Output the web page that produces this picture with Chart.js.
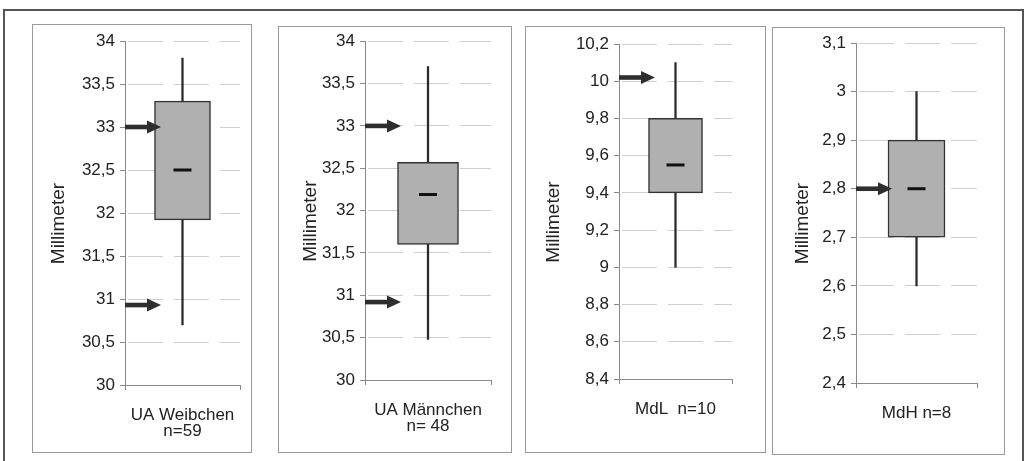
<!DOCTYPE html>
<html>
<head>
<meta charset="utf-8">
<script src="https://cdn.jsdelivr.net/npm/chart.js@4.4.1/dist/chart.umd.min.js"></script>
<style>
  body { margin: 0; background: #fff; width: 1028px; height: 461px; overflow: hidden; position: relative; }
  #frame { position: absolute; left: 3px; top: 9px; width: 1021px; height: 470px; border: 2px solid #555; box-sizing: border-box; }
  .chartbox { position: absolute; }
  .edge { position: absolute; border: 1px solid #9a9a9a; box-sizing: border-box; pointer-events: none; }
</style>
</head>
<body>
<div id="frame"></div>

<script>
// ===== Data =====
const categories  = [["UA Weibchen", "n=59"], ["UA Männchen", "n= 48"], ["MdL  n=10"], ["MdH n=8"]];
const whiskerLow  = [30.7, 30.48, 9.0, 2.6];
const whiskerHigh = [33.8, 33.7, 10.1, 3.0];
const boxLow      = [31.92, 31.6, 9.4, 2.7];
const boxHigh     = [33.3, 32.57, 9.8, 2.9];
const medians     = [32.5, 32.19, 9.55, 2.8];
const arrowValues = [[33.0, 30.93], [33.0, 30.92], [10.02], [2.8]];
const axisMin     = [30, 30, 8.4, 2.4];
const axisMax     = [34, 34, 10.2, 3.1];
const axisStep    = [0.5, 0.5, 0.2, 0.1];
const yTitle      = "Millimeter";

// ===== Panel layout (page pixels) =====
const panels = [
  { left: 32,  top: 24, width: 220, height: 429, axisX: 125, axisRight: 242, areaTop: 41, areaBottom: 385, box: 56, titlePad: 15 },
  { left: 278, top: 26, width: 234, height: 427, axisX: 365, axisRight: 491, areaTop: 41, areaBottom: 380, box: 61, titlePad: 21 },
  { left: 525, top: 26, width: 241, height: 427, axisX: 619, axisRight: 732, areaTop: 44, areaBottom: 379, box: 54, titlePad: 17 },
  { left: 772, top: 27, width: 233, height: 428, axisX: 856, axisRight: 977, areaTop: 43, areaBottom: 383, box: 57, titlePad: 19 }
];

const FONT = "'Liberation Sans', Arial, sans-serif";
const TXT = "#222";

// arrows pointing at the y axis values
const arrowPlugin = {
  id: "arrows",
  afterDatasetsDraw(chart, args, opts) {
    const { ctx, chartArea } = chart;
    const y = chart.scales.y;
    ctx.save();
    ctx.fillStyle = "#2e2e2e";
    (opts.values || []).forEach(v => {
      const py = y.getPixelForValue(v);
      const x0 = chartArea.left, x1 = x0 + 22, x2 = x0 + 36;
      ctx.fillRect(x0, py - 2.3, x1 - x0, 4.6);
      ctx.beginPath();
      ctx.moveTo(x1, py - 6.5);
      ctx.lineTo(x2, py);
      ctx.lineTo(x1, py + 6.5);
      ctx.closePath();
      ctx.fill();
    });
    ctx.restore();
  }
};

const fmt = (v) => String(Number(v.toFixed(2))).replace(".", ",");

panels.forEach((p, i) => {
  const box = document.createElement("div");
  box.className = "chartbox";
  box.style.cssText = `left:${p.left}px;top:${p.top}px;width:${p.width}px;height:${p.height}px;`;
  const cv = document.createElement("canvas");
  box.appendChild(cv);
  document.body.appendChild(box);

  const edge = document.createElement("div");
  edge.className = "edge";
  edge.style.cssText = box.style.cssText;
  document.body.appendChild(edge);

  const yWidth = p.axisX - p.left;
  const xHeight = p.top + p.height - p.areaBottom;

  new Chart(cv, {
    data: {
      labels: [categories[i]],
      datasets: [
        {
          type: "line",
          data: [medians[i]],
          showLine: false,
          pointStyle: "line",
          pointRadius: 9,
          pointBorderWidth: 3,
          pointBorderColor: "#111",
          order: 1
        },
        {
          type: "bar",
          data: [[boxLow[i], boxHigh[i]]],
          backgroundColor: "#b0b0b0",
          borderColor: "#333",
          borderWidth: 1.5,
          borderSkipped: false,
          barThickness: p.box,
          grouped: false,
          order: 2
        },
        {
          type: "bar",
          data: [[whiskerLow[i], whiskerHigh[i]]],
          backgroundColor: "#2a2a2a",
          borderWidth: 0,
          barThickness: 1.6,
          grouped: false,
          order: 3
        }
      ]
    },
    options: {
      responsive: true,
      maintainAspectRatio: false,
      animation: false,
      events: [],
      layout: { padding: { top: p.areaTop - p.top, right: p.left + p.width - p.axisRight, left: 0, bottom: 0 } },
      scales: {
        x: {
          afterFit: (s) => { s.height = xHeight; s.paddingLeft = 0; s.paddingRight = 0; },
          grid: { drawOnChartArea: false, tickLength: 5, color: "#8a8a8a", offset: true },
          border: { color: "#8a8a8a", width: 1 },
          ticks: { color: TXT, padding: 17, maxRotation: 0, font: { family: FONT, size: 17, lineHeight: 0.95 } }
        },
        y: {
          min: axisMin[i],
          max: axisMax[i],
          afterFit: (s) => { s.width = yWidth; },
          grid: {
            color: (c) => (c.tick && Math.abs(c.tick.value - axisMin[i]) < 1e-6) ? "rgba(0,0,0,0)" : "#cfcfcf",
            tickColor: "#8a8a8a",
            tickLength: 5,
            lineWidth: 1
          },
          border: { color: "#8a8a8a", width: 1, dash: [35, 11], dashOffset: 44 },
          ticks: {
            stepSize: axisStep[i],
            color: TXT,
            padding: 5,
            font: { family: FONT, size: 17 },
            callback: (v) => fmt(v)
          },
          title: {
            display: true,
            text: yTitle + "    ",
            color: TXT,
            padding: { top: p.titlePad, bottom: 0 },
            font: { family: FONT, size: 19 }
          }
        }
      },
      plugins: {
        legend: { display: false },
        tooltip: { enabled: false },
        arrows: { values: arrowValues[i] }
      }
    },
    plugins: [arrowPlugin]
  });
});
</script>
</body>
</html>
